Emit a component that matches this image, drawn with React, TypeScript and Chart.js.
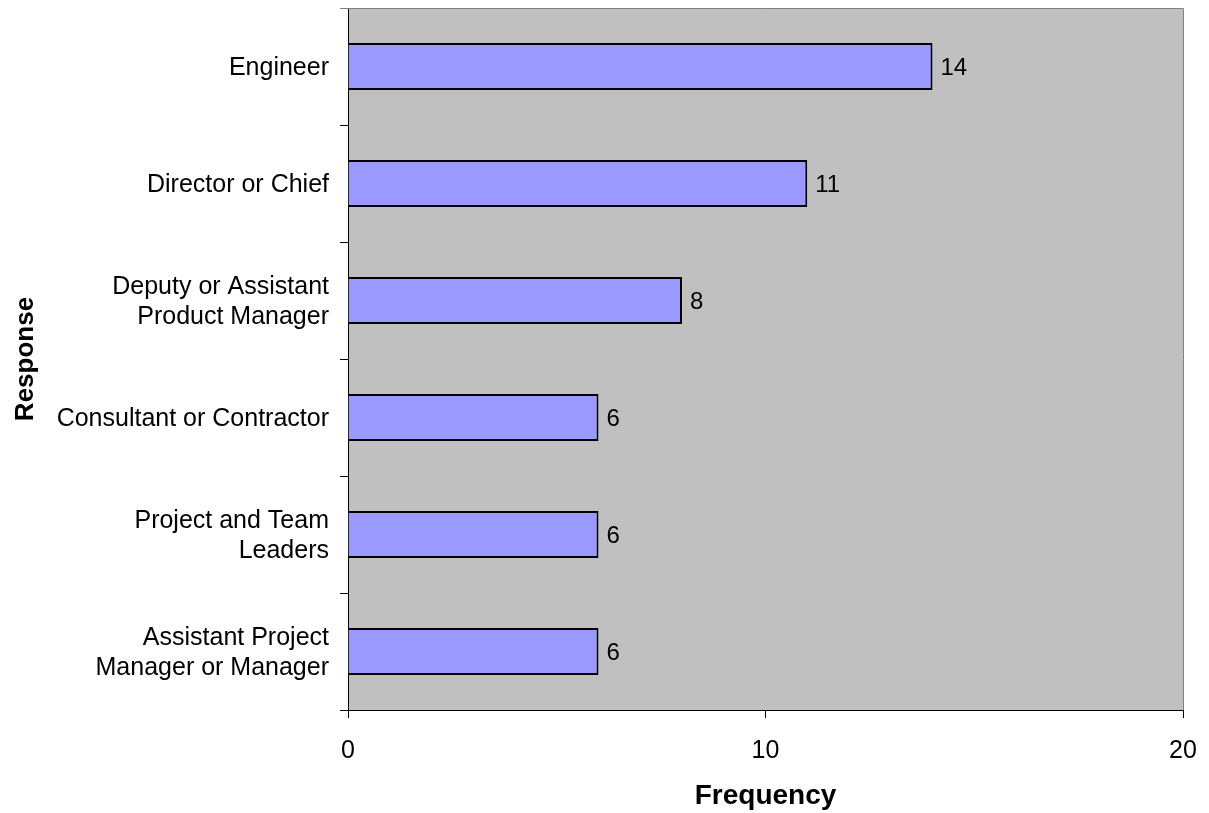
import React, { useEffect, useRef } from "react";
import { Chart, registerables } from "chart.js";

Chart.register(...registerables);

const categories: (string | string[])[] = [
  "Engineer",
  "Director or Chief",
  ["Deputy or Assistant", "Product Manager"],
  "Consultant or Contractor",
  ["Project and Team", "Leaders"],
  ["Assistant Project", "Manager or Manager"],
];
const frequencies: number[] = [14, 11, 8, 6, 6, 6];
const xTicks: number[] = [0, 10, 20];

const FONT = "'Liberation Sans', Arial, sans-serif";

const bgPlugin = {
  id: "bgPlugin",
  beforeDraw(chart: any) {
    const { ctx, chartArea } = chart;
    ctx.save();
    ctx.fillStyle = "#ffffff";
    ctx.fillRect(0, 0, chart.width, chart.height);
    ctx.fillStyle = "#C0C0C0";
    ctx.fillRect(chartArea.left, chartArea.top, chartArea.right - chartArea.left, chartArea.bottom - chartArea.top);
    ctx.restore();
  },
  afterDraw(chart: any) {
    const { ctx, chartArea } = chart;
    ctx.save();
    ctx.strokeStyle = "#808080";
    ctx.lineWidth = 1;
    ctx.beginPath();
    ctx.moveTo(chartArea.left - 8, chartArea.top + 0.5);
    ctx.lineTo(chartArea.right + 0.5, chartArea.top + 0.5);
    ctx.lineTo(chartArea.right + 0.5, chartArea.bottom);
    ctx.stroke();
    ctx.restore();
  },
};

const labelPlugin = {
  id: "labelPlugin",
  afterDatasetsDraw(chart: any) {
    const { ctx } = chart;
    const meta = chart.getDatasetMeta(0);
    const data = chart.data.datasets[0].data;
    ctx.save();
    ctx.fillStyle = "#000000";
    ctx.font = `24px ${FONT}`;
    ctx.textAlign = "left";
    ctx.textBaseline = "middle";
    meta.data.forEach((bar: any, i: number) => {
      ctx.fillText(String(data[i]), bar.x + 8, bar.y + 2);
    });
    ctx.restore();
  },
};

export default function App() {
  const canvasRef = useRef<HTMLCanvasElement | null>(null);

  useEffect(() => {
    if (!canvasRef.current) return;
    const chart = new Chart(canvasRef.current, {
      type: "bar",
      data: {
        labels: categories,
        datasets: [
          {
            data: frequencies,
            backgroundColor: "#9999FF",
            borderColor: "#000000",
            borderWidth: 2,
            barPercentage: 0.4,
            categoryPercentage: 1.0,
          },
        ],
      },
      options: {
        indexAxis: "y",
        animation: false,
        responsive: true,
        maintainAspectRatio: false,
        layout: { padding: { top: 8, right: 26, left: 0, bottom: 0 } },
        plugins: {
          legend: { display: false },
          tooltip: { enabled: false },
        },
        scales: {
          x: {
            type: "linear",
            min: 0,
            max: 20,
            afterBuildTicks(scale: any) {
              scale.ticks = xTicks.map((v) => ({ value: v }));
            },
            afterFit(scale: any) {
              scale.height = 103;
              scale.paddingLeft = 0;
              scale.paddingRight = 0;
            },
            grid: {
              drawOnChartArea: false,
              drawTicks: true,
              tickLength: 8,
              color: "#000000",
            },
            border: { display: true, color: "#000000", width: 1 },
            ticks: {
              color: "#000000",
              font: { family: FONT, size: 25 },
              padding: 18,
              maxRotation: 0,
            },
            title: {
              display: true,
              text: "Frequency",
              color: "#000000",
              font: { family: FONT, size: 28, weight: "bold" },
              padding: { top: 0, bottom: 0 },
            },
          },
          y: {
            type: "category",
            afterFit(scale: any) {
              scale.width = 348;
              scale.paddingTop = 0;
              scale.paddingBottom = 0;
            },
            grid: {
              drawOnChartArea: false,
              drawTicks: true,
              tickLength: 8,
              offset: true,
              color: "#000000",
            },
            border: { display: true, color: "#000000", width: 1 },
            ticks: {
              color: "#000000",
              font: { family: FONT, size: 25, lineHeight: 1.2 },
              padding: 11,
              labelOffset: 2,
              autoSkip: false,
            },
            title: {
              display: true,
              text: "Response",
              color: "#000000",
              font: { family: FONT, size: 26, weight: "bold" },
              padding: { top: 10, bottom: 0 },
            },
          },
        },
      },
      plugins: [bgPlugin, labelPlugin],
    });
    return () => chart.destroy();
  }, []);

  return (
    <div style={{ position: "absolute", left: 0, top: 0, width: 1209, height: 813 }}>
      <canvas ref={canvasRef} style={{ display: "block" }} />
    </div>
  );
}
